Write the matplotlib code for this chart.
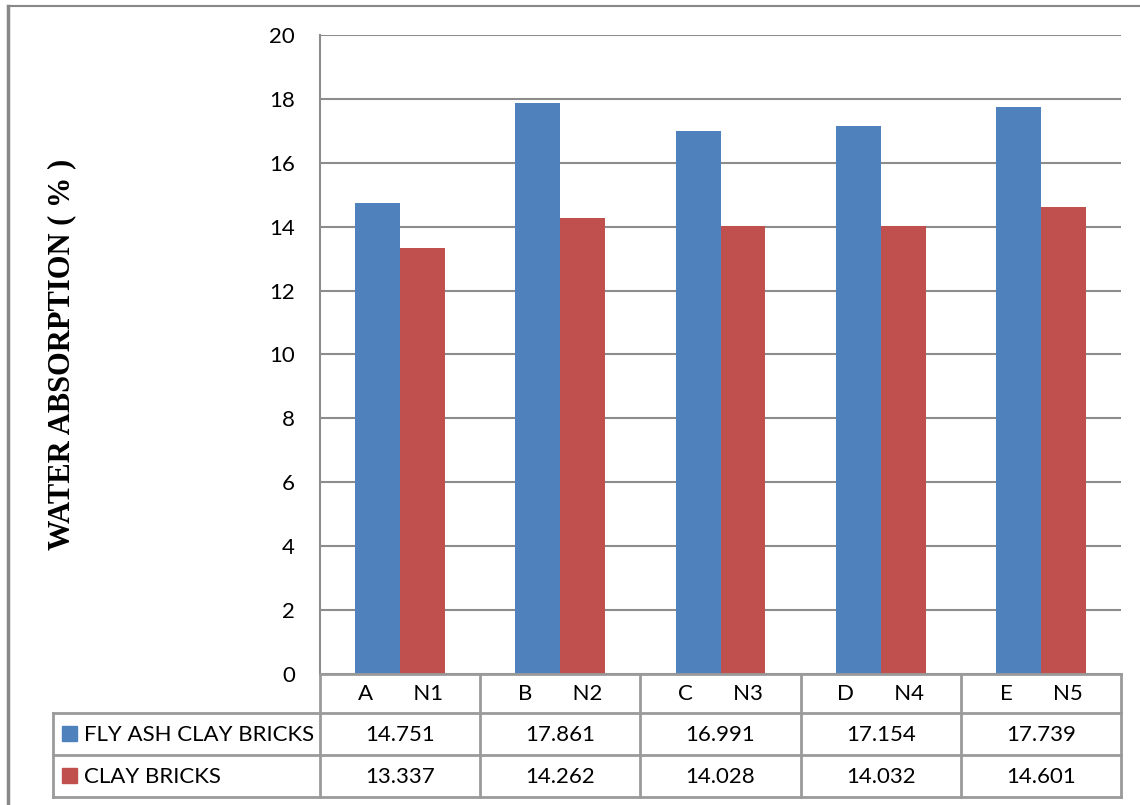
import matplotlib
matplotlib.use("Agg")
import matplotlib.pyplot as plt
from matplotlib.lines import Line2D
from matplotlib.patches import Rectangle
import numpy as np

categories = ["A       N1", "B       N2", "C       N3", "D       N4", "E       N5"]
series_names = ["FLY ASH CLAY BRICKS", "CLAY BRICKS"]
fly_ash = [14.751, 17.861, 16.991, 17.154, 17.739]
clay = [13.337, 14.262, 14.028, 14.032, 14.601]
colors = ["#4F81BD", "#C0504D"]
yticks = [0, 2, 4, 6, 8, 10, 12, 14, 16, 18, 20]

W, H = 1140, 805
fig = plt.figure(figsize=(W / 100, H / 100), dpi=100)

def fx(px):
    return px / W

def fy(py):
    return 1 - py / H

FONT = "Lato"
FS = 16
grid_c = "#8c8c8c"
tab_c = "#9a9a9a"

# outer border
fig.add_artist(Line2D([fx(8), fx(8)], [fy(6), 0], color="#888888", lw=2.5, transform=fig.transFigure))
fig.add_artist(Line2D([fx(8), 1], [fy(6), fy(6)], color="#888888", lw=1.5, transform=fig.transFigure))

x0, x1, ytop, ybot = 320, 1121, 35, 674
ax = fig.add_axes([fx(x0), fy(ybot), fx(x1) - fx(x0), fy(ytop) - fy(ybot)])
n = len(categories)
x = np.arange(n)
bw = 0.28
ax.bar(x - bw / 2, fly_ash, bw, color=colors[0], zorder=3)
ax.bar(x + bw / 2, clay, bw, color=colors[1], zorder=3)
ax.set_xlim(-0.5, n - 0.5)
ax.set_ylim(0, 20)
ax.set_yticks(yticks)
ax.set_yticklabels([str(v) for v in yticks], fontfamily=FONT, fontsize=FS)
ax.tick_params(axis="y", length=0, pad=18)
ax.set_xticks([])
ax.yaxis.grid(True, color=grid_c, lw=1.5, zorder=0)
for s in ["top", "right", "bottom"]:
    ax.spines[s].set_visible(False)
ax.spines["left"].set_color(grid_c)
ax.spines["left"].set_linewidth(1.5)

fig.text(fx(62), fy(354), "WATER ABSORPTION ( % )", rotation=90, ha="center", va="center",
         fontfamily="Liberation Serif", fontweight="bold", fontsize=22)

# data table
rows = [674, 713, 755, 797]
tleft = 53
col_w = (x1 - x0) / n
def hline(xa, xb, y):
    fig.add_artist(Line2D([fx(xa), fx(xb)], [fy(y), fy(y)], color=tab_c, lw=2, transform=fig.transFigure))
def vline(xp, ya, yb):
    fig.add_artist(Line2D([fx(xp), fx(xp)], [fy(ya), fy(yb)], color=tab_c, lw=2, transform=fig.transFigure))

hline(x0, x1, rows[0])
for r in rows[1:]:
    hline(tleft, x1, r)
vline(tleft, rows[1], rows[3])
for i in range(n + 1):
    vline(x0 + i * col_w, rows[0], rows[3])

for i, c in enumerate(categories):
    cx = x0 + (i + 0.5) * col_w
    fig.text(fx(cx), fy((rows[0] + rows[1]) / 2 + 1), c, ha="center", va="center", fontfamily=FONT, fontsize=FS)
    fig.text(fx(cx), fy((rows[1] + rows[2]) / 2 + 1), f"{fly_ash[i]:.3f}", ha="center", va="center", fontfamily=FONT, fontsize=FS)
    fig.text(fx(cx), fy((rows[2] + rows[3]) / 2 + 1), f"{clay[i]:.3f}", ha="center", va="center", fontfamily=FONT, fontsize=FS)

for j, (name, col) in enumerate(zip(series_names, colors)):
    yc = (rows[j + 1] + rows[j + 2]) / 2
    fig.add_artist(Rectangle((fx(62), fy(yc + 7)), fx(15), 15 / H, color=col, transform=fig.transFigure))
    fig.text(fx(84), fy(yc + 1), name, ha="left", va="center", fontfamily=FONT, fontsize=FS)

fig.savefig("out.png", dpi=100)
